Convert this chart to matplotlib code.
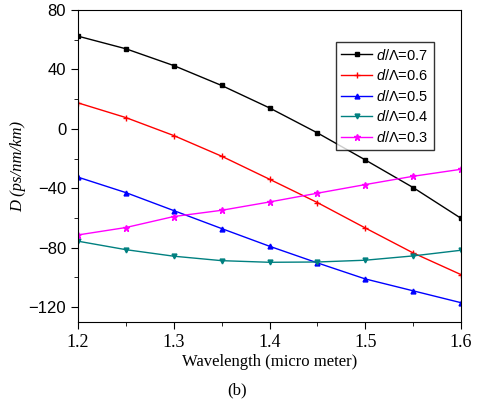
import matplotlib
matplotlib.use("Agg")
import matplotlib.pyplot as plt
from matplotlib.ticker import MultipleLocator

plt.rcParams["mathtext.fontset"] = "custom"
plt.rcParams["mathtext.rm"] = "Liberation Sans"
plt.rcParams["mathtext.it"] = "Liberation Sans:italic"

# dispersion curves for different d/Lambda ratios
wavelength = [1.20, 1.25, 1.30, 1.35, 1.40, 1.45, 1.50, 1.55, 1.60]
d_07 = [62.4, 53.9, 42.6, 29.2, 14.1, -2.7, -20.9, -39.5, -60.2]
d_06 = [17.5, 7.6, -4.5, -18.4, -33.9, -49.6, -66.7, -83.5, -98.1]
d_05 = [-32.5, -42.9, -55.0, -67.1, -79.0, -90.2, -101.0, -109.0, -117.0]
d_04 = [-75.6, -81.3, -85.7, -88.7, -89.8, -89.6, -88.4, -85.5, -81.7]
d_03 = [-71.4, -66.4, -59.0, -54.8, -49.2, -43.3, -37.5, -31.9, -27.2]
ratios = ["0.7", "0.6", "0.5", "0.4", "0.3"]

series = [
    (d_07, "black", "s", 2.5),
    (d_06, "red", "+", 4),
    (d_05, "blue", "^", 3.5),
    (d_04, "#008080", "v", 3.5),
    (d_03, "magenta", "*", 4.5),
]

fig = plt.figure(figsize=(4.83, 4.07), dpi=100)
ax = fig.add_axes([0.1615, 0.2088, 0.793, 0.7666])

for (vals, col, mk, ms), r in zip(series, ratios):
    ax.plot(wavelength, vals, color=col, marker=mk, markersize=ms,
            linewidth=1.0, label=r"$d/\Lambda$=" + r)

ax.set_xlim(1.2, 1.6)
ax.set_ylim(-130, 80)
ax.xaxis.set_major_locator(MultipleLocator(0.1))
ax.xaxis.set_minor_locator(MultipleLocator(0.05))
ax.yaxis.set_major_locator(MultipleLocator(40))
ax.yaxis.set_minor_locator(MultipleLocator(20))
ax.tick_params(which="both", direction="out", top=False, right=False)
ax.tick_params(which="major", length=5)
ax.tick_params(which="minor", length=3)

for lab in ax.get_xticklabels():
    lab.set_family("Liberation Serif")
    lab.set_fontsize(13)
for lab in ax.get_yticklabels():
    lab.set_family("Liberation Sans")
    lab.set_fontsize(12)

ax.set_xlabel("Wavelength (micro meter)", family="Liberation Serif",
              fontsize=12, labelpad=2)
ax.set_ylabel("D (ps/nm/km)", family="Liberation Serif", style="italic",
              fontsize=12, labelpad=2)

leg = ax.legend(loc="upper left", bbox_to_anchor=(0.674, 0.896),
                prop={"family": "Liberation Sans", "size": 10.5},
                frameon=True, fancybox=False, edgecolor="black",
                handlelength=2.1, borderpad=0.35, labelspacing=0.38,
                handletextpad=0.3, borderaxespad=0)
leg.get_frame().set_linewidth(1.0)

fig.text(0.49, 0.04, "(b)", family="Liberation Serif", fontsize=12,
         ha="center", va="center")

fig.savefig("out.png", dpi=100)
